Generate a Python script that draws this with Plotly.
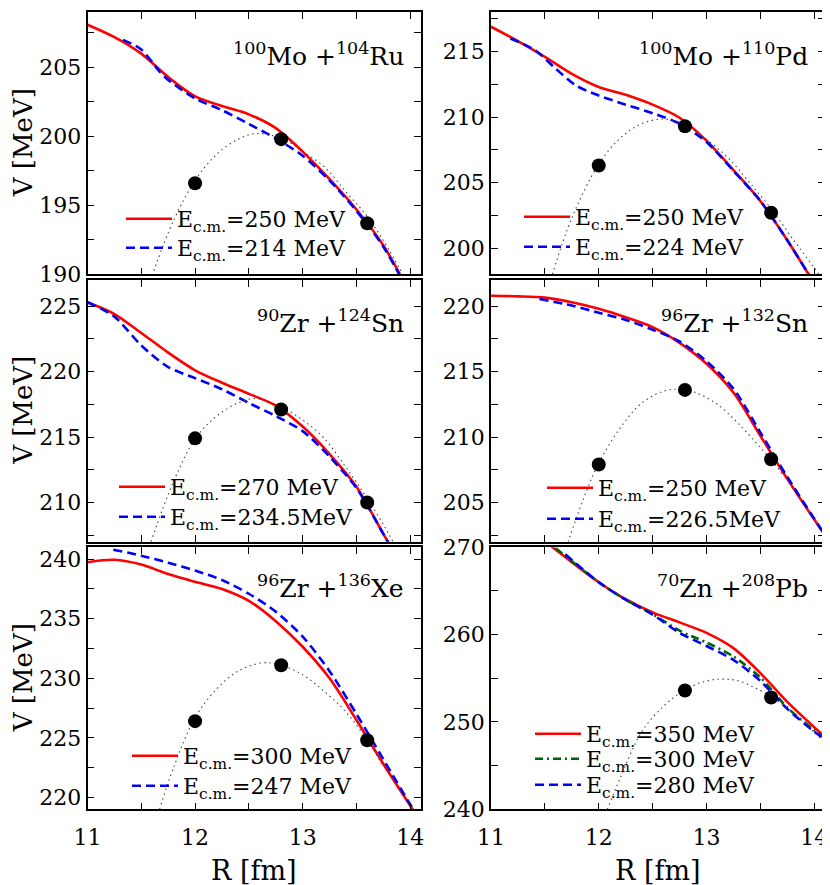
import plotly.graph_objects as go

FONT = "DejaVu Serif"
RED = "#ff0000"
BLUE = "#0000ff"
GREEN = "#006400"

# 100Mo + 104Ru
moru_r_250 = [11.0, 11.25, 11.5, 11.75, 12.0, 12.25, 12.5, 12.75, 13.0, 13.25, 13.5, 13.75, 14.0]
moru_v_250 = [208.1, 207.2, 206.0, 204.3, 202.9, 202.2, 201.6, 200.6, 198.9, 196.9, 194.7, 192.1, 188.6]
moru_r_214 = [11.33, 11.5, 11.67, 11.75, 12.0, 12.25, 12.5, 12.75, 13.0, 13.25, 13.5, 13.75, 14.0]
moru_v_214 = [207.0, 206.3, 204.7, 204.1, 202.75, 201.9, 200.9, 199.85, 198.6, 196.8, 194.6, 192.0, 188.5]
moru_r_fit = [11.6, 11.8, 12.0, 12.2, 12.4, 12.55, 12.7, 12.85, 13.0, 13.2, 13.4, 13.6, 13.8, 14.0]
moru_v_fit = [189.9, 193.9, 196.8, 198.7, 199.8, 200.2, 200.1, 199.7, 198.9, 197.8, 196.0, 194.2, 191.8, 189.0]
moru_r_pts = [12.0, 12.8, 13.6]
moru_v_pts = [196.6, 199.8, 193.7]

# 100Mo + 110Pd
mopd_r_250 = [11.0, 11.25, 11.5, 11.75, 12.0, 12.25, 12.5, 12.75, 13.0, 13.25, 13.5, 13.75, 14.0]
mopd_v_250 = [216.9, 215.8, 214.6, 213.3, 212.3, 211.7, 210.95, 209.95, 208.2, 205.95, 203.6, 200.6, 197.3]
mopd_r_224 = [11.18, 11.41, 11.6, 11.79, 12.0, 12.25, 12.5, 12.75, 13.0, 13.25, 13.5, 13.75, 14.0]
mopd_v_224 = [216.0, 215.1, 213.7, 212.4, 211.65, 210.95, 210.3, 209.5, 208.1, 205.9, 203.6, 200.6, 197.3]
mopd_r_fit = [11.57, 11.75, 12.0, 12.2, 12.4, 12.6, 12.8, 13.0, 13.2, 13.4, 13.6, 13.8, 14.0, 14.1]
mopd_v_fit = [198.0, 202.3, 206.4, 208.4, 209.5, 209.85, 209.45, 208.3, 206.9, 205.0, 203.0, 200.7, 198.5, 197.3]
mopd_r_pts = [12.0, 12.8, 13.6]
mopd_v_pts = [206.3, 209.3, 202.7]

# 90Zr + 124Sn
zrsn4_r = [11.0, 11.25, 11.5, 11.75, 12.0, 12.25, 12.5, 12.75, 13.0, 13.25, 13.5, 13.75, 14.0]
zrsn4_v_270 = [225.3, 224.4, 222.95, 221.45, 220.1, 219.15, 218.3, 217.4, 215.8, 213.7, 211.2, 207.6, 204.0]
zrsn4_v_234 = [225.3, 224.2, 222.0, 220.35, 219.5, 218.65, 217.6, 216.6, 215.45, 213.5, 211.1, 207.6, 204.0]
zrsn4_r_fit = [11.59, 11.8, 12.0, 12.2, 12.4, 12.57, 12.8, 13.0, 13.2, 13.4, 13.6, 13.8, 13.9]
zrsn4_v_fit = [207.0, 211.6, 214.85, 216.6, 217.6, 217.95, 217.3, 216.3, 214.9, 212.7, 210.3, 207.6, 206.0]
zrsn4_r_pts = [12.0, 12.8, 13.6]
zrsn4_v_pts = [214.9, 217.1, 210.0]

# 96Zr + 132Sn
zrsn2_r_250 = [11.0, 11.25, 11.5, 11.75, 12.0, 12.25, 12.5, 12.75, 13.0, 13.25, 13.5, 13.75, 14.0, 14.1]
zrsn2_v_250 = [220.8, 220.75, 220.65, 220.3, 219.8, 219.15, 218.4, 217.2, 215.6, 213.4, 210.1, 206.8, 203.7, 202.5]
zrsn2_r_226 = [11.45, 11.75, 12.0, 12.25, 12.5, 12.75, 13.0, 13.25, 13.5, 13.75, 14.0, 14.1]
zrsn2_v_226 = [220.55, 220.05, 219.5, 218.95, 218.2, 217.3, 215.8, 213.7, 210.35, 206.95, 203.75, 202.5]
zrsn2_r_fit = [11.7, 11.85, 12.0, 12.2, 12.4, 12.6, 12.75, 12.9, 13.1, 13.3, 13.5, 13.6, 13.7]
zrsn2_v_fit = [201.6, 205.1, 208.0, 210.7, 212.6, 213.5, 213.65, 213.4, 212.5, 211.0, 209.2, 208.3, 207.2]
zrsn2_r_pts = [12.0, 12.8, 13.6]
zrsn2_v_pts = [207.9, 213.6, 208.3]

# 96Zr + 136Xe
zrxe_r_300 = [11.0, 11.25, 11.5, 11.75, 12.0, 12.25, 12.5, 12.75, 13.0, 13.25, 13.5, 13.75, 14.0, 14.1]
zrxe_v_300 = [239.75, 239.95, 239.55, 238.75, 238.1, 237.5, 236.5, 234.8, 232.65, 230.0, 226.5, 222.8, 219.3, 217.9]
zrxe_r_247 = [11.24, 11.5, 11.75, 12.0, 12.25, 12.5, 12.75, 13.0, 13.25, 13.5, 13.75, 14.0, 14.1]
zrxe_v_247 = [240.8, 240.3, 239.7, 239.05, 238.25, 237.1, 235.6, 233.5, 230.6, 227.0, 223.2, 219.4, 218.0]
zrxe_r_fit = [11.67, 11.8, 12.0, 12.2, 12.4, 12.63, 12.8, 13.0, 13.2, 13.4, 13.6, 13.75]
zrxe_v_fit = [219.0, 222.5, 226.7, 229.1, 230.6, 231.3, 231.1, 230.3, 228.9, 227.2, 224.8, 222.6]
zrxe_r_pts = [12.0, 12.8, 13.6]
zrxe_v_pts = [226.4, 231.1, 224.8]

# 70Zn + 208Pb
znpb_r_350 = [11.5, 11.75, 12.0, 12.25, 12.5, 12.75, 13.0, 13.25, 13.5, 13.75, 14.0, 14.1]
znpb_v_350 = [270.7, 268.3, 266.0, 264.05, 262.55, 261.4, 260.2, 258.45, 255.6, 252.3, 249.4, 248.3]
znpb_r_300 = [11.6, 11.75, 12.0, 12.25, 12.5, 12.75, 13.0, 13.25, 13.5, 13.75, 14.0, 14.1]
znpb_v_300 = [269.9, 268.4, 266.0, 264.0, 262.35, 260.45, 259.1, 257.5, 255.1, 251.65, 249.05, 248.2]
znpb_r_280 = [11.69, 12.0, 12.25, 12.5, 12.75, 13.0, 13.25, 13.5, 13.75, 14.0, 14.1]
znpb_v_280 = [269.2, 266.0, 264.0, 262.3, 260.2, 258.7, 257.1, 254.7, 251.5, 248.9, 248.0]
znpb_r_fit = [12.08, 12.2, 12.4, 12.6, 12.8, 13.0, 13.15, 13.3, 13.5, 13.6, 13.8, 14.0, 14.1]
znpb_v_fit = [240.0, 243.6, 248.9, 251.8, 253.7, 254.7, 254.9, 254.7, 253.6, 252.9, 251.1, 248.8, 247.6]
znpb_r_pts = [12.8, 13.6]
znpb_v_pts = [253.6, 252.8]

W, H = 830, 885
OFF = 8  # page body margin
COLS = [(87.5, 421.0), (491.0, 825.0)]
ROWS = [(12.3, 274.3), (280.0, 541.7), (547.3, 809.3)]


def ecm(txt):
    return "E<sub>c.m.</sub>=" + txt


def px_x(x):
    return (x - OFF) / W


def px_y(y):
    return 1 - (y - OFF) / H


# legend rows: (sample start x, row centre y) in page pixels
panels = [
    dict(title="<sup>100</sup>Mo +<sup>104</sup>Ru", yr=[190, 209], dt=5,
         curves=[(moru_r_250, moru_v_250, ecm("250 MeV"), RED, "solid"),
                 (moru_r_214, moru_v_214, ecm("214 MeV"), BLUE, "9px,5px")],
         fit=(moru_r_fit, moru_v_fit), pts=(moru_r_pts, moru_v_pts),
         leg=[(128, 219), (128, 248)], ty=-42),
    dict(title="<sup>100</sup>Mo +<sup>110</sup>Pd", yr=[198, 218], dt=5,
         curves=[(mopd_r_250, mopd_v_250, ecm("250 MeV"), RED, "solid"),
                 (mopd_r_224, mopd_v_224, ecm("224 MeV"), BLUE, "9px,5px")],
         fit=(mopd_r_fit, mopd_v_fit), pts=(mopd_r_pts, mopd_v_pts),
         leg=[(526, 217), (526, 247)], ty=-42),
    dict(title="<sup>90</sup>Zr +<sup>124</sup>Sn", yr=[207, 227], dt=5,
         curves=[(zrsn4_r, zrsn4_v_270, ecm("270 MeV"), RED, "solid"),
                 (zrsn4_r, zrsn4_v_234, ecm("234.5MeV"), BLUE, "9px,5px")],
         fit=(zrsn4_r_fit, zrsn4_v_fit), pts=(zrsn4_r_pts, zrsn4_v_pts),
         leg=[(121, 487), (121, 517)], ty=-42),
    dict(title="<sup>96</sup>Zr +<sup>132</sup>Sn", yr=[202, 222], dt=5,
         curves=[(zrsn2_r_250, zrsn2_v_250, ecm("250 MeV"), RED, "solid"),
                 (zrsn2_r_226, zrsn2_v_226, ecm("226.5MeV"), BLUE, "9px,5px")],
         fit=(zrsn2_r_fit, zrsn2_v_fit), pts=(zrsn2_r_pts, zrsn2_v_pts),
         leg=[(549, 488), (549, 519)], ty=-42),
    dict(title="<sup>96</sup>Zr +<sup>136</sup>Xe", yr=[219, 241], dt=5,
         curves=[(zrxe_r_300, zrxe_v_300, ecm("300 MeV"), RED, "solid"),
                 (zrxe_r_247, zrxe_v_247, ecm("247 MeV"), BLUE, "9px,5px")],
         fit=(zrxe_r_fit, zrxe_v_fit), pts=(zrxe_r_pts, zrxe_v_pts),
         leg=[(134, 756), (134, 786)], ty=-39),
    dict(title="<sup>70</sup>Zn +<sup>208</sup>Pb", yr=[240, 270], dt=10,
         curves=[(znpb_r_350, znpb_v_350, ecm("350 MeV"), RED, "solid"),
                 (znpb_r_300, znpb_v_300, ecm("300 MeV"), GREEN, "8px,4px,2px,4px"),
                 (znpb_r_280, znpb_v_280, ecm("280 MeV"), BLUE, "9px,5px")],
         fit=(znpb_r_fit, znpb_v_fit), pts=(znpb_r_pts, znpb_v_pts),
         leg=[(537, 734), (537, 759), (537, 785)], ty=-39),
]

fig = go.Figure()
layout = dict(
    width=W, height=H, margin=dict(l=0, r=0, t=0, b=0, autoexpand=False),
    paper_bgcolor="white", plot_bgcolor="white", showlegend=True,
    font=dict(family=FONT, size=22, color="black"),
)
annotations = []
leg_count = 0

for i, p in enumerate(panels):
    n = i + 1
    sfx = "" if n == 1 else str(n)
    row, col = divmod(i, 2)
    x0, x1 = COLS[col]
    y0, y1 = ROWS[row]
    xa, ya = "x" + sfx, "y" + sfx

    for (r, v, name, color, dash), (lx, ly) in zip(p["curves"], p["leg"]):
        leg_count += 1
        leg = "legend" if leg_count == 1 else "legend" + str(leg_count)
        fig.add_trace(go.Scatter(
            x=r, y=v, mode="lines", name=name, xaxis=xa, yaxis=ya, legend=leg,
            line=dict(color=color, width=2.6, dash=dash, shape="spline", smoothing=0.8),
        ))
        layout[leg] = dict(
            x=px_x(lx - 7), y=px_y(ly), xanchor="left", yanchor="middle",
            bgcolor="rgba(0,0,0,0)", borderwidth=0,
            font=dict(family=FONT, size=22, color="black"), itemwidth=46,
        )
    fig.add_trace(go.Scatter(
        x=p["fit"][0], y=p["fit"][1], mode="lines", showlegend=False,
        xaxis=xa, yaxis=ya,
        line=dict(color="#444444", width=1.1, dash="1.5px,3.5px", shape="spline"),
    ))
    fig.add_trace(go.Scatter(
        x=p["pts"][0], y=p["pts"][1], mode="markers", showlegend=False,
        xaxis=xa, yaxis=ya, marker=dict(color="black", size=14),
    ))

    common = dict(
        showline=True, linecolor="black", linewidth=1.5, mirror="ticks",
        ticks="inside", ticklen=7, tickwidth=1.2, tickcolor="black",
        showgrid=False, zeroline=False, automargin=False,
        tickfont=dict(family=FONT, size=22, color="black"),
    )
    layout["xaxis" + sfx] = dict(
        common, domain=[px_x(x0), px_x(x1)], range=[11, 14.1], anchor=ya,
        tick0=11, dtick=1, showticklabels=(row == 2), ticklabelstandoff=8,
        minor=dict(ticks="inside", ticklen=7, tickwidth=1.2, tickcolor="black", dtick=0.5),
    )
    layout["yaxis" + sfx] = dict(
        common, domain=[px_y(y1), px_y(y0)], range=p["yr"], anchor=xa,
        dtick=p["dt"], tick0=0,
        minor=dict(ticks="inside", ticklen=7, tickwidth=1.2, tickcolor="black", dtick=p["dt"] / 2),
    )
    annotations.append(dict(
        text=p["title"], xref=xa + " domain", yref=ya + " domain", x=1, y=1,
        xanchor="right", yanchor="middle", xshift=-15, yshift=p["ty"], showarrow=False,
        font=dict(family=FONT, size=25, color="black"),
    ))
    if col == 0:
        annotations.append(dict(
            text="V [MeV]", xref="paper", yref="paper", x=px_x(23), y=px_y((y0 + y1) / 2),
            xanchor="center", yanchor="middle", textangle=-90, showarrow=False,
            font=dict(family=FONT, size=26, color="black"),
        ))
    if row == 2:
        annotations.append(dict(
            text="R [fm]", xref="paper", yref="paper", x=px_x((x0 + x1) / 2), y=px_y(870),
            xanchor="center", yanchor="middle", showarrow=False,
            font=dict(family=FONT, size=27, color="black"),
        ))

layout["annotations"] = annotations
fig.update_layout(**layout)
fig.write_html("out.html")
